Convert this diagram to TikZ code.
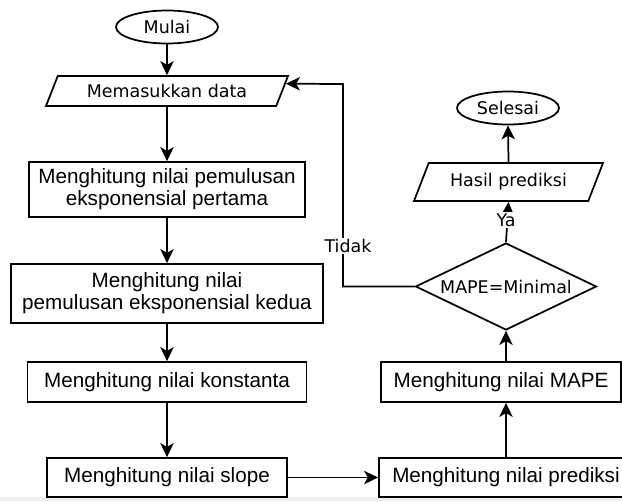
\documentclass[tikz,border=0pt]{standalone}
\usepackage{fontspec}
\setmainfont{Liberation Sans}
\newfontfamily\dvfont{DejaVu Sans}
\usetikzlibrary{shapes.geometric,arrows.meta,calc}
\begin{document}
\begin{tikzpicture}[x=0.75pt,y=-0.75pt,
  line width=1.3pt,
  proc/.style={draw, rectangle, align=center, inner sep=0pt,
    font=\fontsize{15.5}{16.5}\selectfont},
  term/.style={draw, ellipse, inner sep=0pt,
    font=\dvfont\fontsize{13.1}{15}\selectfont,
    minimum width=0.75*102pt, minimum height=0.75*33pt},
  io/.style={draw, trapezium, trapezium left angle=49, trapezium right angle=131,
    trapezium stretches body, inner sep=0pt,
    font=\dvfont\fontsize{13.1}{15}\selectfont},
  dec/.style={draw, diamond, inner sep=0pt, shape aspect=2.08,
    font=\dvfont\fontsize{13.1}{15}\selectfont},
  arr/.style={-{Stealth[length=10.5pt,width=10pt,inset=2.8pt]}},
  lab/.style={fill=white, inner sep=1pt,
    font=\dvfont\fontsize{13.1}{15}\selectfont}]
\useasboundingbox (0,0) rectangle (622,501);
\clip (0,0) rectangle (622,501);
\fill[black!6] (0,497) rectangle (622,501);

% left column
\node[term] (mulai) at (167,27) {Mulai};
\node[io, minimum width=0.75*242pt, minimum height=0.75*30pt] (data) at (167,91) {Memasukkan data};
\node[proc, minimum width=0.75*276pt, minimum height=0.75*55pt] (b1) at (167,189.5)
  {Menghitung nilai pemulusan\\eksponensial pertama};
\node[proc, minimum width=0.75*312pt, minimum height=0.75*59pt] (b2) at (167,293.5)
  {Menghitung nilai\\pemulusan eksponensial kedua};
\node[proc, minimum width=0.75*279pt, minimum height=0.75*40pt] (b3) at (167,382)
  {Menghitung nilai konstanta};
\node[proc, minimum width=0.75*240pt, minimum height=0.75*39pt] (b4) at (167,477.5)
  {Menghitung nilai slope};

% right column
\node[term] (selesai) at (508,108) {Selesai};
\node[io, minimum width=0.75*189pt, minimum height=0.75*38pt] (hasil) at (508.5,182) {Hasil prediksi};
\node[dec, minimum width=0.75*181pt, minimum height=0.75*87pt] (dia) at (506,286.5) {MAPE=Minimal};
\node[proc, minimum width=0.75*240pt, minimum height=0.75*40pt] (mape) at (501,382)
  {Menghitung nilai MAPE};
\node[proc, minimum width=0.75*254pt, minimum height=0.75*39pt] (pred) at (506,477.5)
  {Menghitung nilai prediksi};

% connectors
\draw[arr] (mulai) -- (data);
\draw[arr] (data) -- (b1);
\draw[arr] (b1) -- (b2);
\draw[arr] (b2) -- (b3);
\draw[arr] (b3) -- (b4);
\draw[arr] (b4) -- (pred);
\draw[arr] (pred.north) -- (pred.north |- mape.south);
\draw[arr] (pred.north |- mape.north) -- (dia.south);
\draw[arr] (dia.north) -- (hasil.south);
\draw[arr] (hasil.north) -- (selesai.south);

\coordinate (fb) at (343,84);
\coordinate (fbin) at ($(data.top right corner)!0.27!(data.bottom right corner)$);
\draw[arr] (dia.west) -| (fb) -- (fbin);

\node[lab] (tidak) at (348,246) {Tidak};
\node[lab] (ya) at (506,220) {Ya};
\end{tikzpicture}
\end{document}
